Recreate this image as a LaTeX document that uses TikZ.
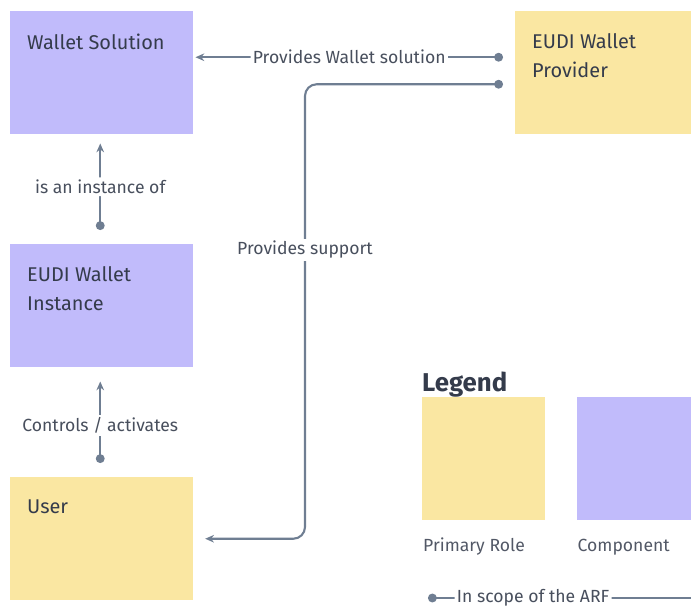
\documentclass[tikz,border=0pt]{standalone}
\usepackage{fontspec}
\setmainfont{Fira Sans}
\usetikzlibrary{positioning,arrows.meta}
\definecolor{compviolet}{HTML}{C1BBFB}
\definecolor{roleyellow}{HTML}{FAE7A2}
\definecolor{linkslate}{HTML}{6F7E92}
\definecolor{inkgray}{HTML}{343B4B}

\begin{document}
\begin{tikzpicture}[
    x=0.03cm, y=-0.03cm,
    >=Stealth,
    every node/.style={font=\fontsize{15}{18}\selectfont, text=inkgray},
    rolebox/.style={
        fill=roleyellow, anchor=north west, inner sep=0pt,
        minimum width=5.49cm, minimum height=3.69cm
    },
    compbox/.style={rolebox, fill=compviolet},
    legbox/.style={minimum width=3.69cm, minimum height=3.69cm},
    boxtitle/.style={
        font=\fontsize{17}{24.7}\selectfont, align=left, inner sep=0pt
    },
    link/.style={
        draw=linkslate, line width=1.8pt, rounded corners=10pt,
        {Circle[length=7.5pt]}-{Stealth[length=7.5pt, width=6.5pt]}
    },
    linklabel/.style={fill=white, inner sep=2pt, text=inkgray!90},
]
\useasboundingbox (0,0) rectangle (691,606);

% === Components (left column) ===
\node[compbox] (wsol) at (10,11) {};
\node[boxtitle, below right=0.68cm and 0.51cm of wsol.north west] (wsoltitle) {Wallet Solution};

\node[compbox] (inst) at (10,244) {};
\node[boxtitle, below right=0.68cm and 0.51cm of inst.north west] (insttitle) {EUDI Wallet\\Instance};

% === Roles ===
\node[rolebox] (user) at (10,477) {};
\node[boxtitle, below right=0.68cm and 0.51cm of user.north west] (usertitle) {User};

\node[rolebox] (prov) at (515,11) {};
\node[boxtitle, below right=0.68cm and 0.51cm of prov.north west] (provtitle) {EUDI Wallet\\Provider};

% === Relations ===
\draw[link] ([shift={(-12,-15.5)}]prov.west) --
    node[linklabel] (provlabel) {Provides Wallet solution} ([shift={(2,-15.5)}]wsol.east);

\coordinate (lane) at (305,300);
\draw[link] ([shift={(-12,11.5)}]prov.west) -| (lane |- user.east) -- ([xshift=10]user.east);
\node[linklabel] (supportlabel) at (lane |- 0,250) {Provides support};

\draw[link] ([shift={(-1.5,-14)}]inst.north) --
    node[linklabel] (instlabel) {is an instance of} ([shift={(-1.5,9)}]wsol.south);
\draw[link] ([shift={(-1.5,-14)}]user.north) --
    node[linklabel, pos=0.46] (ctrllabel) {Controls / activates} ([shift={(-1.5,14)}]inst.south);

% === Legend ===
\node[font=\fontsize{22}{26}\selectfont\bfseries, anchor=base west, inner sep=0pt]
    (legendtitle) at (422,391) {Legend};
\node[rolebox, legbox] (legrole) at (422,397) {};
\node[compbox, legbox, right=0.93cm of legrole.east, anchor=west] (legcomp) {};
\node[inner sep=0pt, text=inkgray!85, below right=0.93cm and 0.03cm of legrole.south west, anchor=base west]
    (rolelabel) {Primary Role};
\node[inner sep=0pt, text=inkgray!85, below right=0.93cm and 0.03cm of legcomp.south west, anchor=base west]
    (complabel) {Component};

\coordinate (arfstart) at (428,598);
\coordinate (arfend) at (720,598);
\draw[link, {Circle[length=7.5pt]}-] (arfstart) --
    node[linklabel, pos=0.36] (arflabel) {In scope of the ARF} (arfend);

\end{tikzpicture}
\end{document}
